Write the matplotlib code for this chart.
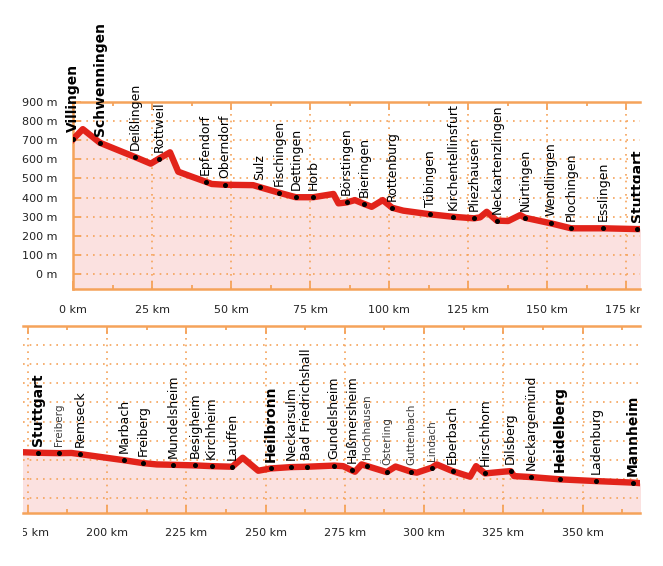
import matplotlib
matplotlib.use('Agg')
import matplotlib.pyplot as plt
from matplotlib.transforms import Bbox, TransformedBbox

# Höhenprofil, erster Abschnitt (km, m)
top_km = [0, 3.1, 8.5, 19.7, 24.6, 27.2, 30.7, 33.3, 37.6, 42, 43.9, 48, 57, 59.2,
          65.1, 70.5, 76, 82.4, 84, 86.6, 89.2, 92.1, 94.5, 98, 101, 104.5, 113,
          120.3, 126.9, 128.8, 130.9, 134.1, 137.7, 141.5, 143, 151.2, 157.6,
          167.8, 178.4, 180]
top_m = [704, 757, 686, 611, 577, 603, 636, 535, 509, 483, 471, 467, 465, 454,
         426, 402, 402, 419, 370, 375, 387, 367, 352, 387, 347, 332, 313,
         300, 292, 297, 326, 280, 278, 309, 295, 266, 240,
         240, 236, 236]

# zweiter Abschnitt
bot_km = [173, 178.1, 184.9, 188.8, 191.5, 205.4, 211.3, 215.7, 220.9, 227.7, 233,
          239.5, 242.8, 247.7, 251.6, 258, 263, 271.6, 274.5, 277.2, 278.2, 280.3,
          282.1, 288.2, 291, 295.9, 297.7, 302.4, 304, 309, 314.5, 316.4, 319.2,
          325, 327.3, 328.4, 333.7, 342.9, 354.2, 365.8, 369]
bot_m = [240, 237, 235, 236, 230, 198, 183, 176, 174, 171, 167,
         164, 211, 143, 155, 162, 164, 170, 167, 145, 138, 176,
         167, 136, 165, 138, 133, 159, 176, 141, 112, 167, 129,
         138, 141, 115, 110, 98, 89, 81, 77]

# Orte: Name, km, Höhe, Schrift
top_names = ['Villingen', 'Schwenningen', 'Deißlingen', 'Rottweil', 'Epfendorf',
             'Oberndorf', 'Sulz', 'Fischingen', 'Dettingen', 'Horb', 'Börstingen',
             'Bieringen', 'Rottenburg', 'Tübingen', 'Kirchentellinsfurt',
             'Pliezhausen', 'Neckartenzlingen', 'Nürtingen', 'Wendlingen',
             'Plochingen', 'Esslingen', 'Stuttgart']
top_town_km = [0, 8.5, 19.7, 27.2, 42, 48, 59.2, 65.1, 70.5, 76, 86.6, 92.1, 101,
               113, 120.3, 126.9, 134.1, 143, 151.2, 157.6, 167.8, 178.4]
top_town_m = [704, 686, 611, 603, 483, 467, 454, 426, 402, 402, 375, 367, 347,
              313, 300, 292, 280, 295, 266, 240, 240, 236]
top_style = ['bold', 'bold'] + ['normal'] * 19 + ['bold']

bot_names = ['Stuttgart', 'Freiberg', 'Remseck', 'Marbach', 'Freiberg',
             'Mundelsheim', 'Besigheim', 'Kirchheim', 'Lauffen', 'Heilbronn',
             'Neckarsulm', 'Bad Friedrichshall', 'Gundelsheim', 'Haßmersheim',
             'Hochhausen', 'Österling', 'Guttenbach', 'Lindach', 'Eberbach',
             'Hirschhorn', 'Dilsberg', 'Neckargemünd', 'Heidelberg', 'Ladenburg',
             'Mannheim']
bot_town_km = [178.1, 184.9, 191.5, 205.4, 211.3, 220.9, 227.7, 233, 239.5, 251.6,
               258, 263, 271.6, 277.2, 282.1, 288.2, 295.9, 302.4, 309, 319.2,
               327.3, 333.7, 342.9, 354.2, 365.8]
bot_town_m = [237, 235, 230, 198, 183, 174, 171, 167, 164, 155, 162, 164, 170,
              145, 167, 136, 138, 159, 141, 129, 141, 110, 98, 89, 81]
bot_style = ['bold', 'light', 'normal', 'normal', 'normal', 'normal', 'normal',
             'normal', 'normal', 'bold', 'normal', 'normal', 'normal', 'normal',
             'light', 'light', 'light', 'light', 'normal', 'normal', 'normal',
             'normal', 'bold', 'normal', 'bold']

ORANGE = '#f5a35a'
PINK = '#fbe1e0'
RED = '#e2231a'
YMIN = -78

W, H = 663, 566
fig = plt.figure(figsize=(W / 100, H / 100), dpi=100)
ax1 = fig.add_axes([73 / W, 1 - 289.3 / H, 567 / W, 187.6 / H])
ax2 = fig.add_axes([23.3 / W, 1 - 513 / H, 616.7 / W, 187 / H])

clip_lab = TransformedBbox(Bbox([[0, 0], [640 / W, 1]]), fig.transFigure)
clip_tick = TransformedBbox(Bbox([[23.3 / W, 0], [640 / W, 1]]), fig.transFigure)


def panel(ax, km, m, tkm, tm, names, styles, xlim, major):
    ax.fill_between(km, m, YMIN, color=PINK, lw=0, zorder=1)
    ax.plot(km, m, color=RED, lw=4.6, solid_joinstyle='round', zorder=3)
    ax.plot(tkm, tm, 'o', color='black', ms=2.6, zorder=4)

    for name, k, h, st in zip(names, tkm, tm, styles):
        if st == 'bold':
            kw = dict(fontsize=10, fontweight='bold', color='black')
        elif st == 'light':
            kw = dict(fontsize=7.5, color='#3a3a3a')
        else:
            kw = dict(fontsize=9, color='black')
        t = ax.annotate(name, (k, h), xytext=(0, 5), textcoords='offset points',
                        rotation=90, ha='center', va='bottom',
                        annotation_clip=False, **kw)
        t.set_clip_box(clip_lab)
        t.set_clip_on(True)

    ax.set_xticks(major)
    ax.set_xticklabels([f'{v} km' for v in major])
    ax.set_xticks([v + 12.5 for v in major], minor=True)
    ax.set_yticks(range(0, 1000, 100))
    # set_xticks widens the limits, so fix them afterwards
    ax.set_xlim(xlim)
    ax.set_ylim(YMIN, 900)
    ax.tick_params(axis='x', which='major', direction='in', length=6, width=1.3,
                   color=ORANGE, top=True, bottom=True, pad=11, labelsize=8,
                   labelcolor='#222222')
    ax.tick_params(axis='x', which='minor', direction='in', length=3, width=1.3,
                   color=ORANGE, top=True, bottom=True)
    ax.grid(True, which='major', color=ORANGE, linestyle=(0, (1, 3)), lw=1.2)
    for s in ax.spines.values():
        s.set_color(ORANGE)
        s.set_linewidth(1.8)
    ax.spines['right'].set_visible(False)
    for lbl in ax.get_xticklabels():
        lbl.set_clip_box(clip_tick)
        lbl.set_clip_on(True)


panel(ax1, top_km, top_m, top_town_km, top_town_m, top_names, top_style,
      (0, 179.4), list(range(0, 200, 25)))
ax1.set_yticklabels([f'{v} m' for v in range(0, 1000, 100)])
ax1.tick_params(axis='y', direction='in', length=6, width=1.3, color=ORANGE,
                pad=11, labelsize=8, labelcolor='#222222')

panel(ax2, bot_km, bot_m, bot_town_km, bot_town_m, bot_names, bot_style,
      (173.6, 368.1), list(range(175, 375, 25)))
ax2.spines['left'].set_visible(False)
ax2.tick_params(axis='y', left=False, labelleft=False)

fig.savefig('out.png', dpi=100)
